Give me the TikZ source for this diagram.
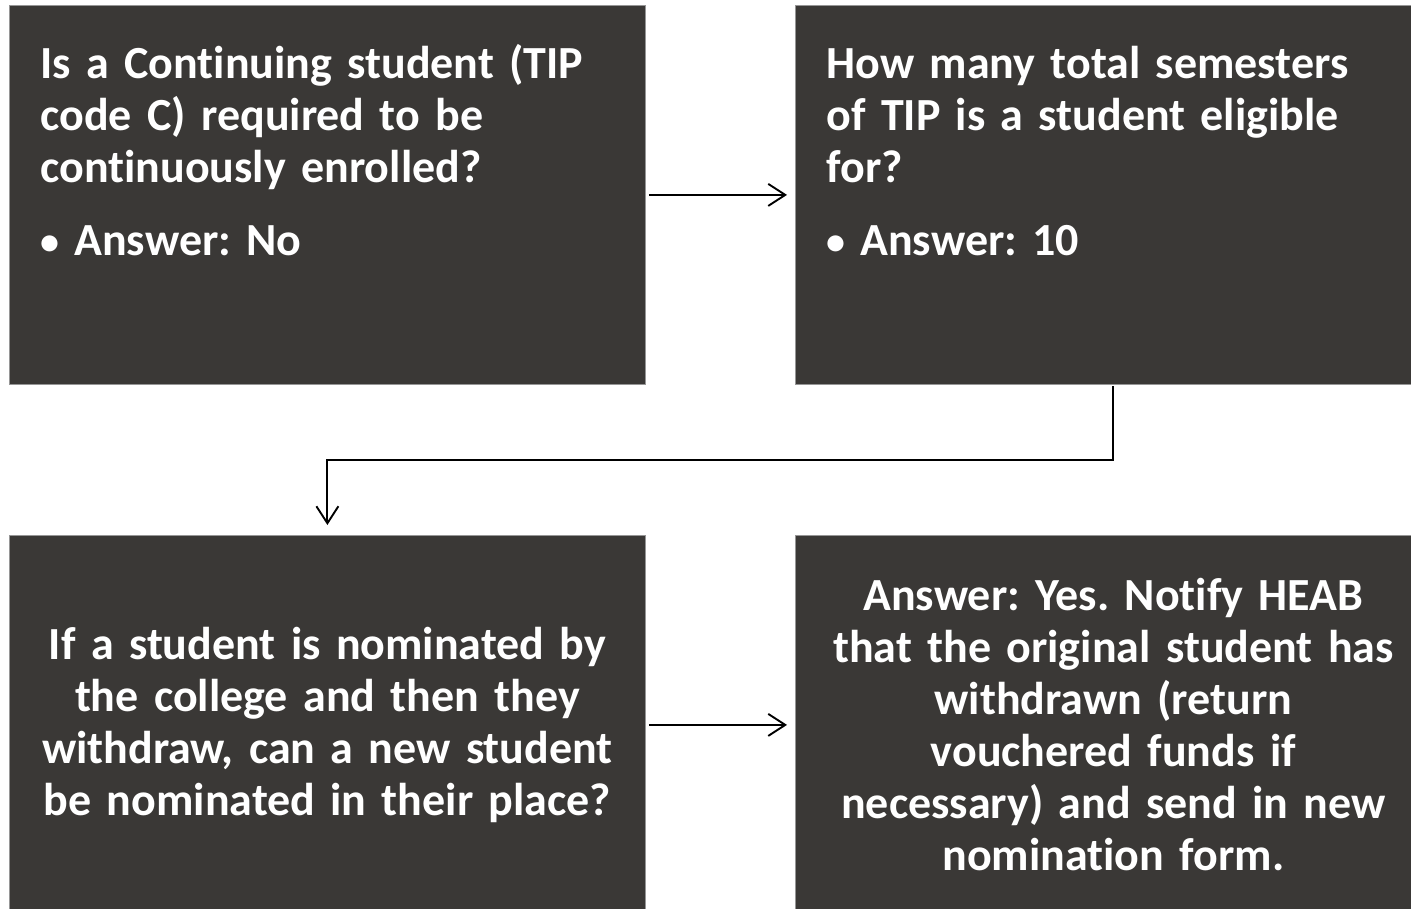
\documentclass[tikz,border=0pt]{standalone}
\usepackage{fontspec}
\setmainfont{Carlito}[Ligatures=CommonOff]
\usepackage{tikz}
\usetikzlibrary{arrows.meta,positioning}

\definecolor{boxgrey}{RGB}{58,56,54}
\definecolor{edgegrey}{RGB}{150,150,150}
\newcommand{\qbullet}{\makebox[34pt][l]{\raisebox{1pt}{\fontsize{38}{38}\selectfont•}}}

\begin{document}
\frenchspacing
\begin{tikzpicture}[x=1pt,y=1pt,
  qbox/.style={rectangle, fill=boxgrey, draw=edgegrey, line width=0.8pt, text=white,
    font=\fontsize{46}{52}\selectfont\bfseries},
  topbox/.style={qbox, anchor=north west, inner xsep=31pt, inner ysep=0pt,
    text width=574pt, align=left, text height=73pt, text depth=306pt},
  lowbox/.style={qbox, anchor=north west, inner sep=0pt, minimum width=636pt,
    minimum height=379pt, text width=610pt, align=center},
  flow/.style={line width=1.9pt, -{Straight Barb[length=17pt,width=22pt,line width=1.9pt]}}]
\useasboundingbox (0,0) rectangle (1411,-908);
% the four boxes
\node[topbox] (cont) at (9,-5) {Is a Continuing student (TIP\\ code C) required to be\\ continuously enrolled?\par\vspace{21pt}
  \qbullet Answer: No};
\node[topbox] (sems) at (795,-5) {How many total semesters\\ of TIP is a student eligible\\ for?\par\vspace{21pt}
  \qbullet Answer: 10};
\node[lowbox] (withdraw) at (9,-535) {If a student is nominated by\\ the college and then they\\ withdraw, can a new student\\ be nominated in their place?};
\node[lowbox] (answer) at (795,-535) {Answer: Yes. Notify HEAB\\ that the original student has\\ withdrawn (return\\ vouchered funds if\\ necessary) and send in new\\ nomination form.};
% connectors
\draw[flow, shorten <=3pt, shorten >=8pt] (cont.east) -- (sems.west);
\draw[flow, shorten <=1pt, shorten >=10pt] (sems.south) -- ++(0,-75) -| (withdraw.north);
\draw[flow, shorten <=3pt, shorten >=8pt] (withdraw.east) -- (answer.west);
\end{tikzpicture}
\end{document}
